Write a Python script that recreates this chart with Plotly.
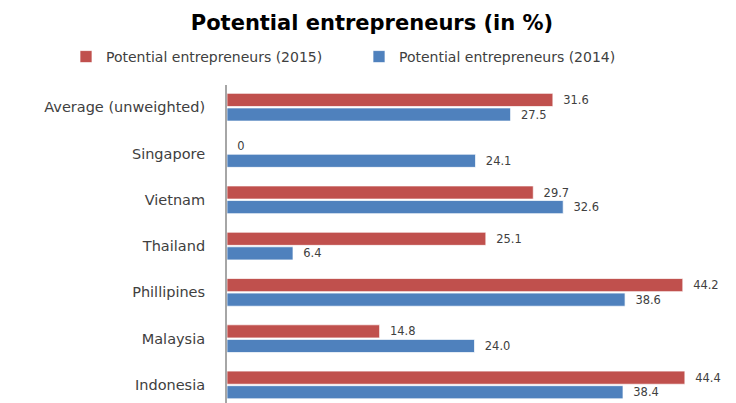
import plotly.graph_objects as go

categories = ["Indonesia", "Malaysia", "Phillipines", "Thailand", "Vietnam", "Singapore", "Average (unweighted)"]
values_2015 = [44.4, 14.8, 44.2, 25.1, 29.7, 0, 31.6]
values_2014 = [38.4, 24.0, 38.6, 6.4, 32.6, 24.1, 27.5]
labels_2015 = ["44.4", "14.8", "44.2", "25.1", "29.7", "0", "31.6"]
labels_2014 = ["38.4", "24.0", "38.6", "6.4", "32.6", "24.1", "27.5"]

RED = "#C0504D"
BLUE = "#4F81BD"
pad = "\u00a0\u00a0"
FONT = "DejaVu Sans"

fig = go.Figure()
fig.add_trace(go.Bar(
    y=categories, x=values_2014, orientation="h", name="Potential entrepreneurs (2014)",
    marker=dict(color=BLUE, line=dict(color="rgba(255,255,255,0.7)", width=1)),
    text=[pad + t for t in labels_2014], textposition="outside", cliponaxis=False,
    textfont=dict(family=FONT, size=14, color="#404040"), legend="legend2",
))
fig.add_trace(go.Bar(
    y=categories, x=values_2015, orientation="h", name="Potential entrepreneurs (2015)",
    marker=dict(color=RED, line=dict(color="rgba(255,255,255,0.7)", width=1)),
    text=[pad + t for t in labels_2015], textposition="outside", cliponaxis=False,
    textfont=dict(family=FONT, size=14, color="#404040"), legend="legend",
))

legend_style = dict(orientation="h", xref="container", xanchor="left",
                    y=0.876, yref="container", yanchor="middle",
                    font=dict(family=FONT, size=14, color="#404040"),
                    itemwidth=30, bgcolor="rgba(0,0,0,0)")

# page has an 8px body margin, so the figure is sized 8px smaller
fig.update_layout(
    width=728, height=395,
    paper_bgcolor="white", plot_bgcolor="white",
    margin=dict(l=219, r=14, t=77, b=0, autoexpand=False),
    barmode="group", bargap=0.37, bargroupgap=0.1,
    title=dict(text="<b>Potential entrepreneurs (in %)</b>", x=0.5, xanchor="center",
               y=0.962, yref="container", yanchor="middle",
               font=dict(family=FONT, size=21, color="#000000")),
    legend=dict(x=58 / 728, **legend_style),
    legend2=dict(x=351 / 728, **legend_style),
    showlegend=True,
)
fig.update_xaxes(range=[0, 48], visible=False, showgrid=False, zeroline=False, automargin=False)
fig.update_yaxes(range=[-0.39, 6.48], showline=True, linecolor="#A6A6A6", linewidth=2,
                 ticks="", showgrid=False, ticklabelstandoff=17, automargin=False,
                 tickfont=dict(family=FONT, size=14.5, color="#404040"))

fig.write_html("out.html")
